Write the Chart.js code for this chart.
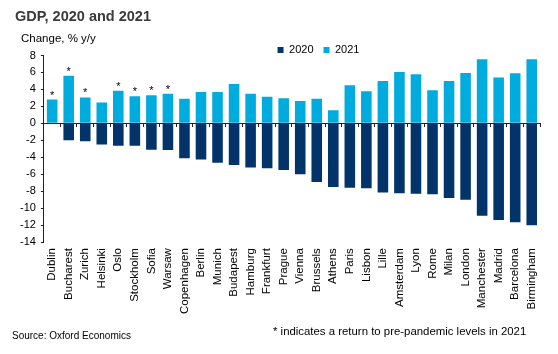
<!DOCTYPE html>
<html>
<head>
<meta charset="utf-8">
<script src="https://cdn.jsdelivr.net/npm/chart.js@4"></script>
<style>
  html, body { margin: 0; padding: 0; background: #fff; }
  #wrap { width: 558px; height: 354px; }
</style>
</head>
<body>
<div id="wrap"><canvas id="gdpChart" width="558" height="354"></canvas></div>
<script>
// values
var cities = ['Dublin', 'Bucharest', 'Zurich', 'Helsinki', 'Oslo', 'Stockholm', 'Sofia', 'Warsaw',
  'Copenhagen', 'Berlin', 'Munich', 'Budapest', 'Hamburg', 'Frankfurt', 'Prague', 'Vienna',
  'Brussels', 'Athens', 'Paris', 'Lisbon', 'Lille', 'Amsterdam', 'Lyon', 'Rome', 'Milan',
  'London', 'Manchester', 'Madrid', 'Barcelona', 'Birmingham'];

var gdp2020 = [null, -2.0, -2.1, -2.5, -2.65, -2.65, -3.1, -3.15, -4.1, -4.25, -4.65, -4.9, -5.2,
  -5.3, -5.5, -6.0, -6.9, -7.5, -7.6, -7.65, -8.15, -8.25, -8.3, -8.35, -8.8, -9.0, -10.9,
  -11.4, -11.65, -12.0];

var gdp2021 = [2.8, 5.6, 3.05, 2.45, 3.85, 3.2, 3.3, 3.5, 2.9, 3.7, 3.7, 4.65, 3.5, 3.15, 2.95,
  2.65, 2.9, 1.55, 4.5, 3.8, 5.0, 6.05, 5.8, 3.9, 5.0, 5.95, 7.55, 5.4, 5.9, 7.55];

// cities marked with * (back to pre-pandemic level in 2021)
var backToPreCovid = ['Dublin', 'Bucharest', 'Zurich', 'Oslo', 'Stockholm', 'Sofia', 'Warsaw'];

var yTicks = { min: -14, max: 8, step: 2 };

var sourceText = 'Source: Oxford Economics';
var noteText = '* indicates a return to pre-pandemic levels in 2021';
var unitText = 'Change, % y/y';

Chart.defaults.font.family = '"Liberation Sans", Arial, sans-serif';
Chart.defaults.color = '#000';

// move the legend a bit so it sits next to the unit label
var legendNudge = {
  id: 'legendNudge',
  afterLayout: function(chart) {
    var l = chart.legend;
    if (!l) return;
    l.left += 41; l.right += 41;
    l.top += 10; l.bottom += 10;
  }
};

// asterisks + loose texts
var extras = {
  id: 'extras',
  afterDatasetsDraw: function(chart) {
    var ctx = chart.ctx;
    var meta = chart.getDatasetMeta(1);
    ctx.save();
    ctx.fillStyle = '#000';
    ctx.font = '11px "Liberation Sans", Arial';
    ctx.textAlign = 'center';
    ctx.textBaseline = 'alphabetic';
    cities.forEach(function(c, i) {
      if (backToPreCovid.indexOf(c) < 0) return;
      var bar = meta.data[i];
      ctx.fillText('*', bar.x, bar.y - 1);
    });
    ctx.restore();
  },
  afterDraw: function(chart) {
    var ctx = chart.ctx;
    ctx.save();
    ctx.fillStyle = '#000';
    ctx.textAlign = 'left';
    ctx.textBaseline = 'middle';
    ctx.font = '11.5px "Liberation Sans", Arial';
    ctx.fillText(unitText, 21, 39);
    ctx.font = '10px "Liberation Sans", Arial';
    ctx.fillText(sourceText, 12, 336);
    ctx.font = '11.4px "Liberation Sans", Arial';
    ctx.fillText(noteText, 273, 332);
    ctx.restore();
  }
};

var ctx = document.getElementById('gdpChart').getContext('2d');
var chart = new Chart(ctx, {
  type: 'bar',
  data: {
    labels: cities,
    datasets: [{
      label: '2020',
      data: gdp2020,
      backgroundColor: '#023369',
      categoryPercentage: 0.8,
      barPercentage: 0.8
    }, {
      label: '2021',
      data: gdp2021,
      backgroundColor: '#00ACDD',
      categoryPercentage: 0.8,
      barPercentage: 0.8
    }]
  },
  options: {
    responsive: false,
    animation: false,
    layout: { padding: { left: 15, right: 18, top: 0, bottom: 34 } },
    plugins: {
      tooltip: { enabled: false },
      title: {
        display: true,
        text: 'GDP, 2020 and 2021',
        align: 'start',
        color: '#3a3a3a',
        font: { size: 14.5, weight: 'bold', lineHeight: 1 },
        padding: { top: 10, bottom: 0 }
      },
      legend: {
        display: true,
        position: 'top',
        align: 'center',
        labels: {
          boxWidth: 6,
          boxHeight: 6,
          padding: 10,
          font: { size: 11 },
          color: '#000'
        }
      }
    },
    scales: {
      x: {
        stacked: true,
        offset: true,
        border: { display: false },
        grid: { display: false, drawTicks: false },
        ticks: {
          autoSkip: false,
          minRotation: 90,
          maxRotation: 90,
          padding: 6,
          font: { size: 11.5 }
        }
      },
      xZero: {
        type: 'category',
        labels: cities,
        position: { y: 0 },
        offset: true,
        z: 1,
        border: { display: true, color: '#222', width: 1 },
        grid: { offset: true, drawOnChartArea: false, drawTicks: true, tickLength: 3, tickColor: '#222' },
        ticks: { display: false }
      },
      y: {
        min: yTicks.min,
        max: yTicks.max,
        border: { display: true, color: '#222', width: 1 },
        grid: {
          drawOnChartArea: false,
          drawTicks: true,
          tickLength: 3,
          tickColor: '#222'
        },
        ticks: {
          stepSize: yTicks.step,
          autoSkip: false,
          padding: 5,
          font: { size: 11 }
        }
      }
    }
  },
  plugins: [legendNudge, extras]
});
</script>
</body>
</html>
